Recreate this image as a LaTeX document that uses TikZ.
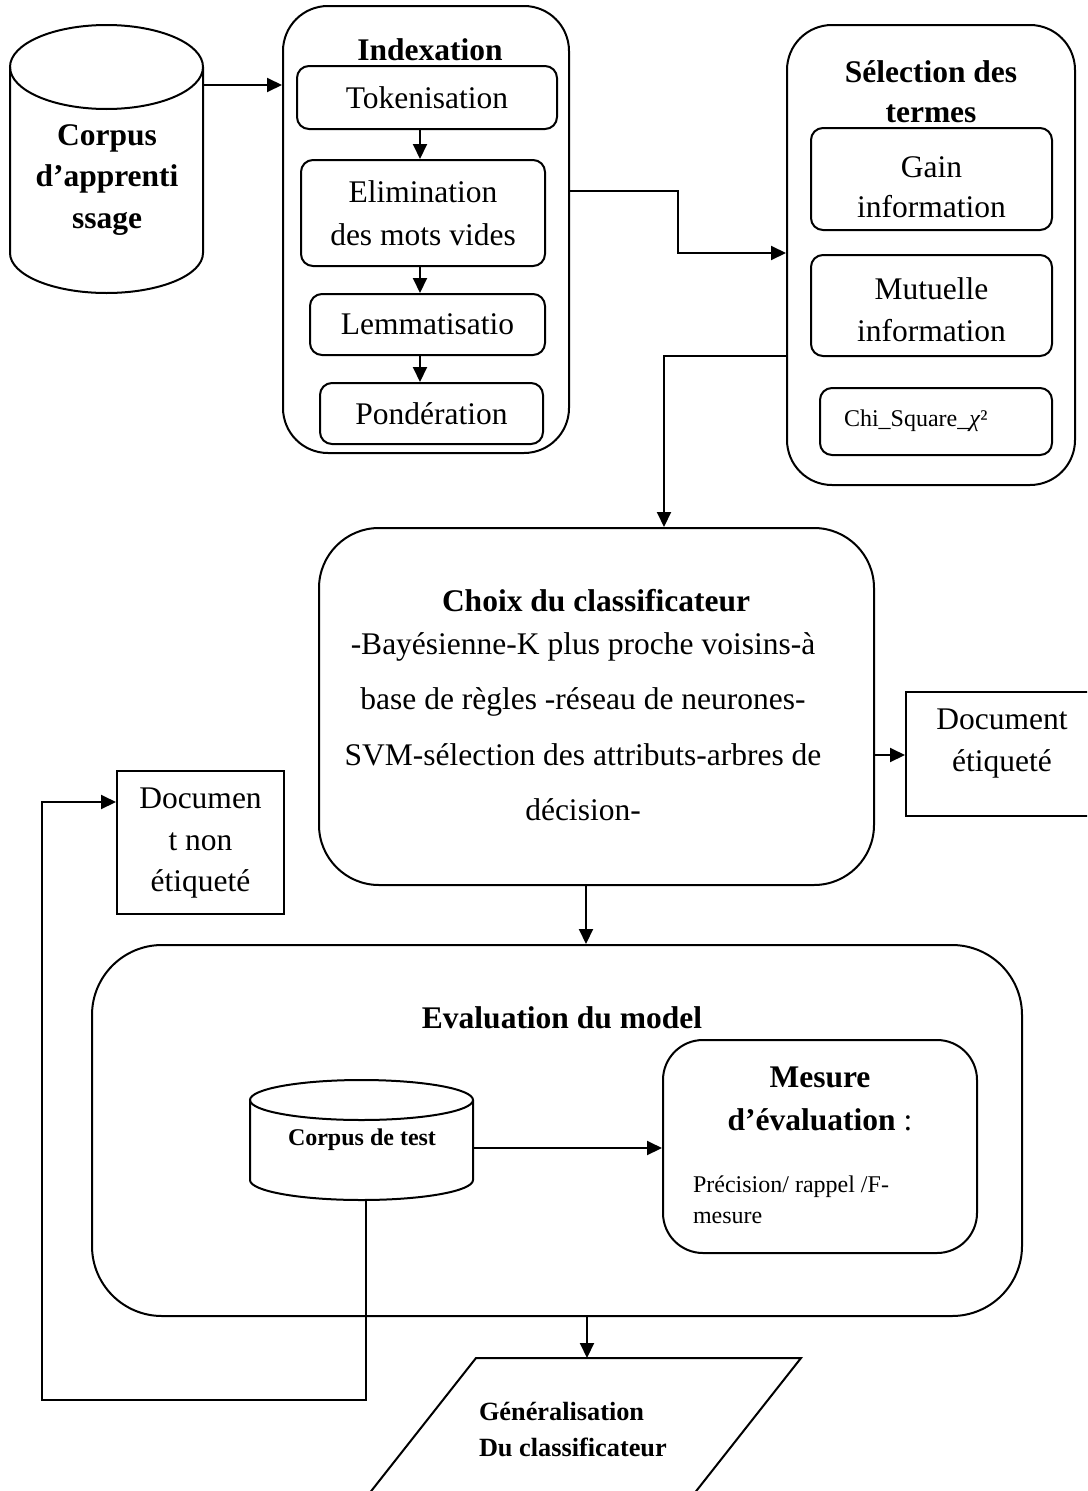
\documentclass[tikz,border=0pt]{standalone}
\usepackage{fontspec}
\setmainfont{Liberation Serif}
\usetikzlibrary{arrows.meta,calc}

\newcommand\fbig{\fontsize{31.5}{42}\selectfont}
\newcommand\fsmall{\fontsize{24}{31}\selectfont}
\newcommand\fgen{\fontsize{26.3}{36}\selectfont}

\begin{document}
\begin{tikzpicture}[x=1pt,y=-1pt,line width=2pt,
  arr/.style={-{Triangle[length=15pt,width=14pt]},line width=2pt},
  outer/.style={draw,rounded corners=#1,inner sep=0pt},
  cbox/.style={draw,rounded corners=12pt,inner sep=0pt,align=center,font=\fbig},
  sqbox/.style={draw,inner sep=0pt},
  ghost/.style={inner sep=0pt},
  txt/.style={inner sep=0pt,align=center,font=\fbig},
  title/.style={inner sep=0pt,align=center,font=\fontsize{31.5}{40}\selectfont\bfseries}]

\useasboundingbox (0,0) rectangle (1087,1491);
\fill[white] (0,0) rectangle (1087,1491);
\clip (0,0) rectangle (1087,1491);

% training corpus (cylinder)
\node[ghost,minimum width=193pt,minimum height=268pt] (corpus) at (106.5,159) {};
\draw (10,67) -- (10,253) arc[start angle=180,end angle=0,x radius=96.5,y radius=40] -- (203,67);
\draw (106.5,67) ellipse[x radius=96.5,y radius=42];
\node[title,font=\fontsize{31.5}{41.5}\selectfont\bfseries] (corpust) at (107,180) {Corpus\\d’apprenti\\ssage};

% indexation block
\node[outer=45pt,minimum width=286pt,minimum height=447pt] (idx) at (426,229.5) {};
\node[title] (idxt) at (430,50) {Indexation};
\node[cbox,minimum width=260pt,minimum height=63pt] (tok) at (427,97.5) {Tokenisation};
\node[cbox,minimum width=244pt,minimum height=106pt,font=\fontsize{31.5}{43}\selectfont] (elim) at (423,213) {Elimination\\des mots vides};
\node[cbox,minimum width=235pt,minimum height=61pt] (lem) at (427.5,324.5) {Lemmatisatio};
\node[cbox,minimum width=223pt,minimum height=61pt] (pond) at (431.5,413.5) {Pondération};
\coordinate (ax) at (420,0);
\draw[arr] (tok.south -| ax) -- (elim.north -| ax);
\draw[arr] (elim.south -| ax) -- (lem.north -| ax);
\draw[arr] (lem.south -| ax) -- (pond.north -| ax);

\coordinate (k0) at (0,85);
\draw[arr] (corpus.east |- k0) -- (idx.west |- k0);

% term selection block
\node[outer=45pt,minimum width=288pt,minimum height=460pt] (sel) at (931,255) {};
\node[title] (selt) at (931,92) {Sélection des\\termes};
\node[cbox,minimum width=241pt,minimum height=102pt] (gain) at (931.5,179) {};
\node[txt,font=\fontsize{31.5}{40}\selectfont] (gaint) at (931.5,187) {Gain\\information};
\node[cbox,minimum width=241pt,minimum height=101pt] (mut) at (931.5,305.5) {};
\node[txt,font=\fontsize{31.5}{42}\selectfont] (mutt) at (931.5,310) {Mutuelle\\information};
\node[cbox,minimum width=232pt,minimum height=67pt] (chi) at (936,421.5) {};
\node[inner sep=0pt,anchor=west,font=\fsmall] (chit) at (843,421) {Chi\_Square\_\textit{χ}²};

\coordinate (k1) at (678,191);
\coordinate (k2) at (678,253);
\draw[arr] (idx.east |- k1) -- (k1) -- (k2) -- (sel.west |- k2);

% classifier choice
\node[outer=60pt,minimum width=555pt,minimum height=357pt] (choix) at (596.5,706.5) {};
\node[title] (choixt) at (596,601) {Choix du classificateur};
\node[txt,font=\fontsize{31.5}{55.5}\selectfont] (choixb) at (583,726.5)
  {-Bayésienne-K plus proche voisins-à\\base de règles -réseau de neurones-\\SVM-sélection des attributs-arbres de\\décision-};

\coordinate (k3) at (664,356);
\draw[arr] (sel.west |- k3) -- (k3) -- (choix.north -| k3);

% labelled document
\node[sqbox,minimum width=192pt,minimum height=124pt] (docet) at (1002,754) {};
\node[txt] (docett) at (1002,744) {Document\\étiqueté};
\coordinate (k6) at (0,755);
\draw[arr] (choix.east |- k6) -- (docet.west |- k6);

% unlabelled document
\node[sqbox,minimum width=167pt,minimum height=143pt] (docnon) at (200.5,842.5) {};
\node[txt,font=\fontsize{31.5}{41.5}\selectfont] (docnont) at (200.5,843.5) {Documen\\t non\\étiqueté};

% model evaluation
\node[outer=70pt,minimum width=930pt,minimum height=371pt] (eval) at (557,1130.5) {};
\node[title] (evalt) at (562,1018) {Evaluation du model};
\coordinate (k4) at (586,0);
\draw[arr] (choix.south -| k4) -- (eval.north -| k4);

% test corpus (cylinder)
\node[ghost,minimum width=223pt,minimum height=120pt] (ctest) at (361.5,1140) {};
\draw (250,1100) -- (250,1180) arc[start angle=180,end angle=0,x radius=111.5,y radius=20] -- (473,1100);
\draw (361.5,1100) ellipse[x radius=111.5,y radius=20];
\node[inner sep=0pt,font=\fontsize{24}{30}\selectfont\bfseries] (ctestt) at (362,1140) {Corpus de test};

% evaluation measures
\node[outer=40pt,minimum width=314pt,minimum height=213pt] (mes) at (820,1146.5) {};
\node[title,font=\fontsize{31.5}{43}\selectfont\bfseries] (mest) at (820,1098.5) {Mesure\\d’évaluation \textmd{:}};
\node[inner sep=0pt,anchor=west,align=left,font=\fsmall] (mesb) at (692,1199.5) {Précision/ rappel /F-\\mesure};

\coordinate (k7) at (0,1148);
\draw[arr] (ctest.east |- k7) -- (mes.west |- k7);

% generalisation
\coordinate (gtl) at (476,1358);
\coordinate (gtr) at (801,1358);
\coordinate (gbr) at (665.5,1530);
\coordinate (gbl) at (340.5,1530);
\draw (gtl) -- (gtr) -- (gbr) -- (gbl) -- cycle;
\node[inner sep=0pt,anchor=west,align=left,font=\fgen\bfseries] (gen) at (478,1430) {Généralisation\\Du classificateur};
\coordinate (k5) at (587,0);
\draw[arr] (eval.south -| k5) -- (gtl -| k5);

% feedback loop to the unlabelled document
\coordinate (f1) at (366,1400);
\coordinate (f2) at (42,1400);
\coordinate (f3) at (42,802);
\draw[arr] (ctest.south -| f1) -- (f1) -- (f2) -- (f3) -- (docnon.west |- f3);

\end{tikzpicture}
\end{document}
